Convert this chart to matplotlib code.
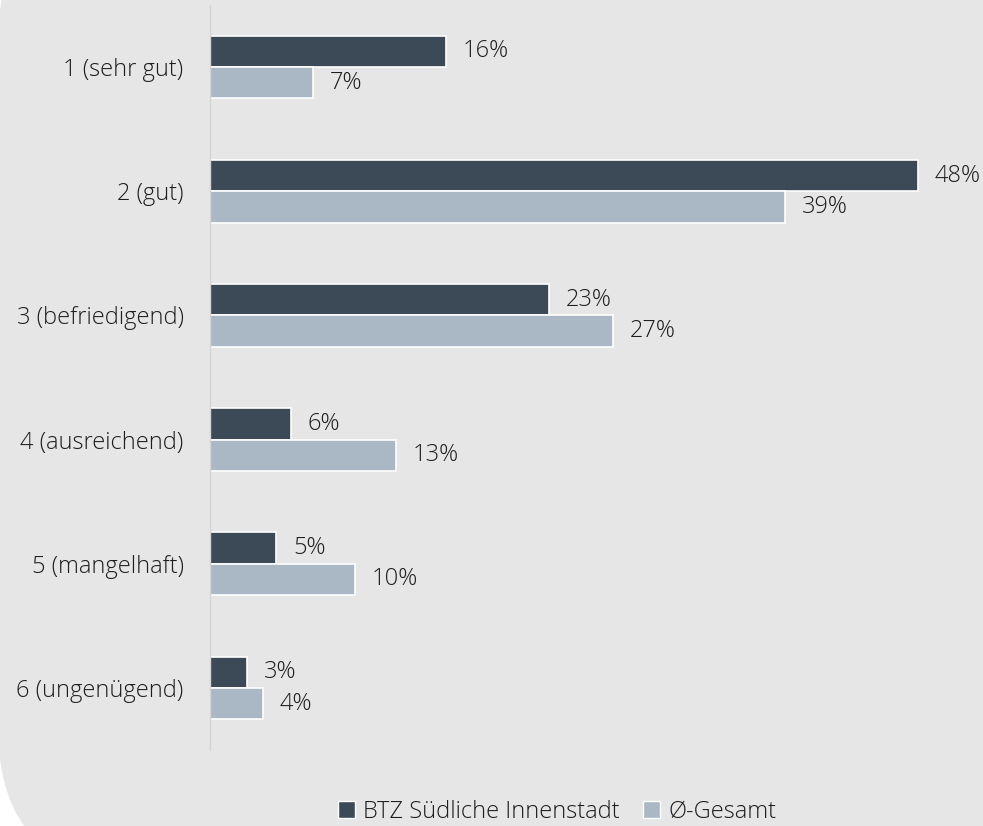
import matplotlib
matplotlib.use("Agg")
import matplotlib.pyplot as plt
from matplotlib.patches import FancyBboxPatch, Patch
from matplotlib.transforms import Affine2D
import numpy as np

categories = ["1 (sehr gut)", "2 (gut)", "3 (befriedigend)", "4 (ausreichend)",
              "5 (mangelhaft)", "6 (ungenügend)"]
series_names = ["BTZ Südliche Innenstadt", "Ø-Gesamt"]
btz_values = [16, 48, 23, 5.5, 4.5, 2.5]
gesamt_values = [7, 39, 27.3, 12.6, 9.8, 3.6]

W, H = 983, 826
DARK = "#3c4a57"
LIGHT = "#a9b8c4"
BG = "#e6e6e6"
TXT = "#1e1e1e"
FS = 17

plt.rcParams['font.family'] = ['Open Sans', 'DejaVu Sans']
plt.rcParams['font.weight'] = 'light'

fig = plt.figure(figsize=(W / 100, H / 100), dpi=100, facecolor="white")

# rounded grey background panel (pixel coordinates, y up)
pix = Affine2D().scale(1 / W, 1 / H) + fig.transFigure
bg = FancyBboxPatch((-2, -51), 1200, 985,
                    boxstyle="round,pad=0,rounding_size=150",
                    transform=pix, facecolor=BG, edgecolor="none", zorder=-10)
fig.patches.append(bg)

ax = fig.add_axes([210 / W, 1 - 750 / H, 14.75 * 50 / W, 745 / H])
ax.set_facecolor("none")
ax.set_zorder(5)

y = np.arange(len(categories))
h = 0.253
b1 = ax.barh(y - h / 2, btz_values, height=h, color=DARK, edgecolor="white",
             linewidth=1.2, label=series_names[0])
b2 = ax.barh(y + h / 2, gesamt_values, height=h, color=LIGHT, edgecolor="white",
             linewidth=1.2, label=series_names[1])

for bars, vals in ((b1, btz_values), (b2, gesamt_values)):
    for bar, v in zip(bars, vals):
        ax.annotate(f"{int(v + 0.5)}%", (bar.get_width(), bar.get_y() + bar.get_height() / 2),
                    xytext=(12, 0), textcoords="offset points", va="center", ha="left",
                    fontsize=FS, color=TXT)

ax.set_xlim(0, 50)
ax.set_ylim(5.5, -0.5)
ax.set_yticks(y)
ax.set_yticklabels(categories, fontsize=FS, color=TXT)
ax.tick_params(axis="y", length=0, pad=19)
ax.set_xticks([])
for s in ["top", "right", "bottom"]:
    ax.spines[s].set_visible(False)
ax.spines["left"].set_color("#d4d4d4")
ax.spines["left"].set_linewidth(1.0)

handles = [Patch(facecolor=DARK, edgecolor="white", linewidth=1.0),
           Patch(facecolor=LIGHT, edgecolor="white", linewidth=1.0)]
leg = fig.legend(handles, series_names, loc="center", bbox_to_anchor=(0.567, 1 - 812 / H),
                 ncol=2, frameon=False, fontsize=FS, handlelength=0.7, handleheight=0.7,
                 handletextpad=0.35, columnspacing=1.0, labelcolor=TXT)
leg.set_zorder(6)

fig.savefig("out.png", dpi=100, facecolor="white")
